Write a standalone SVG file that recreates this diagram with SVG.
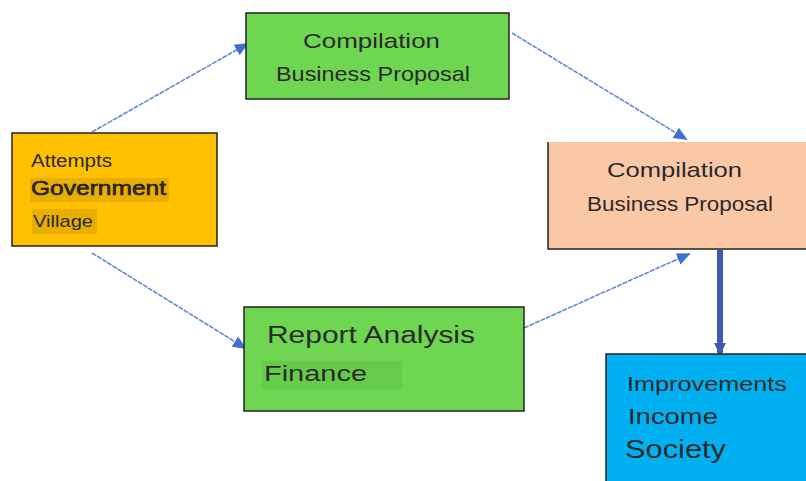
<svg xmlns="http://www.w3.org/2000/svg" width="806" height="481" viewBox="0 0 806 481">
<defs>
<style>
.box{stroke:#222;stroke-width:1.5}
.t{font-family:"Liberation Sans",Arial,sans-serif;fill:#2a2a2a}
.conn{stroke:#6288dc;stroke-width:1.6;fill:none;stroke-dasharray:5 1}
</style>
<marker id="ah" markerWidth="14" markerHeight="14" refX="12" refY="7" orient="auto" markerUnits="userSpaceOnUse" viewBox="0 0 14 14">
<path d="M0,1 L14,7 L0,13 z" fill="#3f6fd0"/>
</marker>
<marker id="ah2" markerWidth="14" markerHeight="12" refX="10" refY="6" orient="auto" markerUnits="userSpaceOnUse" viewBox="0 0 14 12">
<path d="M0,0 L12,6 L0,12 z" fill="#3a5cb0"/>
</marker>
</defs>
<rect width="806" height="481" fill="#fff"/>
<g id="connectors">
<line class="conn" x1="92" y1="132" x2="247" y2="44" marker-end="url(#ah)"/>
<line class="conn" x1="512" y1="33" x2="686" y2="139" marker-end="url(#ah)"/>
<line class="conn" x1="92" y1="253" x2="245" y2="348" marker-end="url(#ah)"/>
<line class="conn" x1="524" y1="328" x2="689" y2="254" marker-end="url(#ah)"/>
<line x1="720" y1="250" x2="720" y2="353" stroke="#3a5cb0" stroke-width="6" marker-end="url(#ah2)"/>
</g>
<g id="node-attempts">
<rect class="box" x="12" y="133" width="205" height="113" fill="#FFC000"/>
<rect x="30" y="178" width="139" height="24" fill="#E8AE00"/>
<rect x="32" y="209" width="65" height="25" fill="#E8AE00"/>
<text class="t" x="31" y="167" font-size="17.5" textLength="81" lengthAdjust="spacingAndGlyphs">Attempts</text>
<text class="t" x="31" y="195" font-size="19.5" fill="#1a1a1a" stroke="#1a1a1a" stroke-width="0.6" textLength="135" lengthAdjust="spacingAndGlyphs">Government</text>
<text class="t" x="33" y="227" font-size="17" textLength="60" lengthAdjust="spacingAndGlyphs">Village</text>
</g>
<g id="node-compilation-top">
<rect class="box" x="246" y="13" width="263" height="86" fill="#6FD651"/>
<text class="t" x="303" y="48" font-size="21" fill="#2e4a22" textLength="137" lengthAdjust="spacingAndGlyphs">Compilation</text>
<text class="t" x="276" y="81" font-size="21" fill="#2e4a22" textLength="194" lengthAdjust="spacingAndGlyphs">Business Proposal</text>
</g>
<g id="node-compilation-right">
<rect x="548" y="142" width="262" height="107" fill="#FBC8A7"/>
<path d="M548,142 V249 H810" fill="none" stroke="#222" stroke-width="1.5"/>
<text class="t" x="607" y="177" font-size="21" fill="#4a3a33" textLength="135" lengthAdjust="spacingAndGlyphs">Compilation</text>
<text class="t" x="587" y="211" font-size="20" fill="#4a3a33" textLength="186" lengthAdjust="spacingAndGlyphs">Business Proposal</text>
</g>
<g id="node-report">
<rect class="box" x="244" y="307" width="280" height="104" fill="#6FD651"/>
<rect x="262" y="361" width="140" height="28" fill="#66CB4A"/>
<text class="t" x="267" y="343" font-size="23" fill="#2e4a22" textLength="208" lengthAdjust="spacingAndGlyphs">Report Analysis</text>
<text class="t" x="264" y="381" font-size="22" fill="#2e4a22" textLength="103" lengthAdjust="spacingAndGlyphs">Finance</text>
</g>
<g id="node-improvements">
<rect class="box" x="606" y="354" width="210" height="140" fill="#00B0F0"/>
<text class="t" x="627" y="391" font-size="21" fill="#123a55" textLength="160" lengthAdjust="spacingAndGlyphs">Improvements</text>
<text class="t" x="628" y="424" font-size="22" fill="#123a55" textLength="90" lengthAdjust="spacingAndGlyphs">Income</text>
<text class="t" x="625" y="458" font-size="25" fill="#123a55" textLength="101" lengthAdjust="spacingAndGlyphs">Society</text>
</g>
</svg>
